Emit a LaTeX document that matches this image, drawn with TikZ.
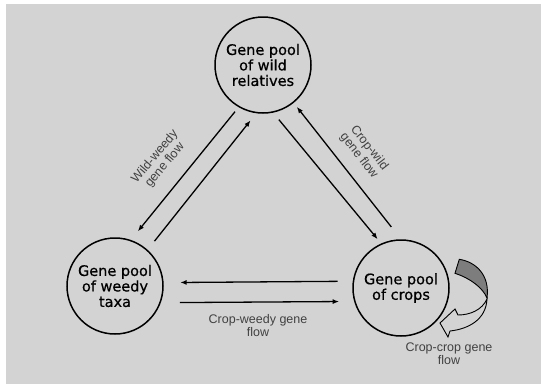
\documentclass[tikz,border=0pt]{standalone}
\usepackage{fontspec}
\setmainfont{DejaVu Sans}
\newfontfamily\poolfont[FakeBold=0.6]{DejaVu Sans}
\newfontfamily\labelfont{Liberation Sans}
\usetikzlibrary{arrows.meta}
\definecolor{bggray}{RGB}{211,211,211}
\definecolor{ribbongray}{RGB}{125,125,125}
\definecolor{labelgray}{RGB}{65,65,65}

\begin{document}
\begin{tikzpicture}[x=1pt, y=-1pt,
    pool/.style={circle, draw, line width=1.5pt, minimum size=96pt, inner sep=0pt, align=center, font=\poolfont\fontsize{14.5}{15.5}\selectfont},
    flow/.style={line width=1.3pt, -{Latex[length=6.5pt,width=5pt]}},
    flowlabel/.style={align=center, text=labelgray, inner sep=0pt, font=\labelfont\fontsize{12.5}{13}\selectfont}]
    \useasboundingbox (0,0) rectangle (541,384);
    \fill[white] (0,0) rectangle (541,384);
    \fill[bggray] (6,4) rectangle (541,384);
    \node[pool] (wild) at (263,65) {Gene pool\\of wild\\relatives};
    \node[pool] (weedy) at (115,286) {Gene pool\\of weedy\\taxa};
    \node[pool] (crops) at (401,288) {Gene pool\\of crops};
    \draw[flow, shorten <=5.7pt, shorten >=11pt] (wild.240) -- (weedy.71);
    \draw[flow, shorten <=11pt, shorten >=9pt] (weedy.48) -- (wild.262);
    \draw[flow, shorten <=9pt, shorten >=5.5pt] (wild.282) -- (crops.114);
    \draw[flow, shorten <=15.7pt, shorten >=5pt] (crops.90) -- (wild.309);
    \draw[flow, shorten <=15pt, shorten >=16.5pt] (crops.172) -- (weedy.4);
    \draw[flow, shorten <=19pt, shorten >=15pt] (weedy.340) -- (crops.196);
    \filldraw[fill=ribbongray, line width=0.9pt] (459.3,259.3) .. controls (476,262) and (490,275) .. (487,298)
        .. controls (483,288) and (470,278) .. (455,273.3) -- cycle;
    \filldraw[fill=bggray, line width=0.9pt] (487,299) .. controls (482,310) and (470,315) .. (458,315)
        -- (455,309) -- (440,323) -- (448,337) -- (450,331) .. controls (468,329) and (486,320) .. (487,299) -- cycle;
    \node[flowlabel, rotate=50] (wwlabel) at (160,161) {Wild-weedy\\gene flow};
    \node[flowlabel, rotate=-52] (cwlabel) at (364,152) {Crop-wild\\gene flow};
    \node[flowlabel] (cwdlabel) at (258,326) {Crop-weedy gene\\flow};
    \node[flowlabel] (cclabel) at (449,354) {Crop-crop gene\\flow};
\end{tikzpicture}
\end{document}
